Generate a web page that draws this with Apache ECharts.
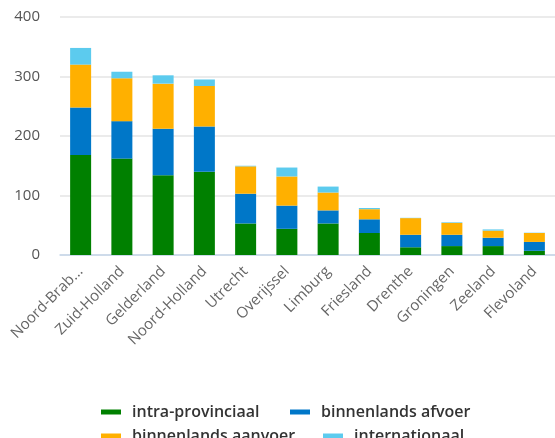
<!DOCTYPE html>
<html>
<head>
<meta charset="utf-8">
<script src="https://cdn.jsdelivr.net/npm/echarts@6/dist/echarts.min.js"></script>
<style>html,body{margin:0;padding:0;background:#fff}#c{width:555px;height:438px}</style>
</head>
<body>
<div id="c"></div>
<script>
var categories = ['Noord-Brab...', 'Zuid-Holland', 'Gelderland', 'Noord-Holland', 'Utrecht', 'Overijssel', 'Limburg', 'Friesland', 'Drenthe', 'Groningen', 'Zeeland', 'Flevoland'];
var intraProvinciaal = [168, 162, 134, 140, 53, 44, 53, 37, 13, 15, 15, 7];
var binnenlandsAfvoer = [80, 63, 78, 76, 50, 39, 22, 23, 21, 19, 14, 15];
var binnenlandsAanvoer = [72, 72, 76, 68, 46, 49, 30, 17, 28, 20, 12, 15];
var internationaal = [28, 11, 14, 11, 1, 15, 10, 2, 0.5, 1, 2, 0.5];
var yTicks = [0, 100, 200, 300, 400];

var colors = ['#008000', '#0077c8', '#ffb000', '#5ccbee'];
var names = ['intra-provinciaal', 'binnenlands afvoer', 'binnenlands aanvoer', 'internationaal'];
var seriesData = [intraProvinciaal, binnenlandsAfvoer, binnenlandsAanvoer, internationaal];
var legendPos = [[96, 399], [285, 399], [96, 423], [318, 423]];

var chart = echarts.init(document.getElementById('c'));
chart.setOption({
  animation: false,
  textStyle: { fontFamily: 'Open Sans' },
  grid: { left: 60, right: -7, top: 17, bottom: 183 },
  legend: names.map(function (n, i) {
    return {
      data: [n], left: legendPos[i][0], top: legendPos[i][1],
      icon: 'rect', itemWidth: 20, itemHeight: 5, itemGap: 10,
      textStyle: { fontSize: 16, fontWeight: 600, color: '#333', fontFamily: 'Open Sans', padding: [0, 0, 0, 6] }
    };
  }),
  xAxis: {
    type: 'category', data: categories,
    axisLine: { lineStyle: { color: '#c5d6ea', width: 1.5 } },
    axisTick: { show: false },
    axisLabel: { rotate: 45, fontSize: 15, color: '#666', margin: 14, interval: 0 }
  },
  yAxis: {
    type: 'value', min: yTicks[0], max: yTicks[yTicks.length - 1], interval: 100,
    axisLine: { show: false }, axisTick: { show: false },
    axisLabel: { fontSize: 15, color: '#555', margin: 20 },
    splitLine: { lineStyle: { color: '#ebebeb', width: 2 } }
  },
  series: names.map(function (n, i) {
    return {
      name: n, type: 'bar', stack: 'a', data: seriesData[i], barWidth: 21,
      itemStyle: { color: colors[i] }
    };
  })
});
</script>
</body>
</html>
